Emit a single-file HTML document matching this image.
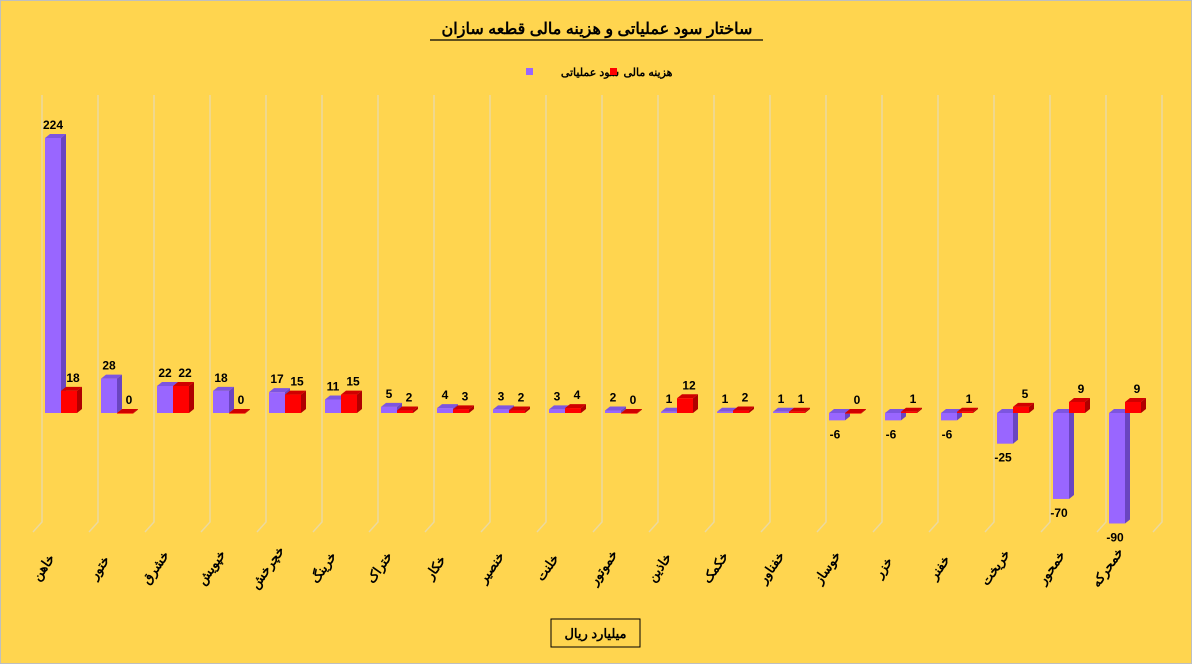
<!DOCTYPE html>
<html><head><meta charset="utf-8"><style>
html,body{margin:0;padding:0;background:#FFD54F;}
svg{display:block;font-family:"Liberation Sans","Noto Sans CJK SC",sans-serif;}
</style></head><body>
<svg id="chart" width="1192" height="664" viewBox="0 0 1192 664">
<rect x="0.5" y="0.5" width="1191" height="663" fill="#FFD54F" stroke="#bfbfbf"/>
<text x="597" y="34" text-anchor="middle" font-size="16" font-weight="bold" direction="rtl">ساختار سود عملیاتی و هزینه مالی قطعه سازان</text>
<line x1="430" y1="40" x2="763" y2="40" stroke="#000" stroke-width="1.3"/>
<g>
<rect x="526" y="68" width="7" height="7" fill="#9966FF"/>
<text x="590" y="76" text-anchor="middle" font-size="11" font-weight="bold" direction="rtl">سود عملیاتی</text>
<rect x="610" y="68" width="7" height="7" fill="#FF0000"/>
<text x="648" y="76" text-anchor="middle" font-size="11" font-weight="bold" direction="rtl">هزینه مالی</text>
</g>
<g id="grid"></g>
<g id="bars"></g>
<g id="labels"></g>
<rect x="551" y="619" width="89" height="28" fill="none" stroke="#000"/>
<text x="595.5" y="638" text-anchor="middle" font-size="13" font-weight="bold" direction="rtl">میلیارد ریال</text>
</svg>
<script>
const categories=["خاهن","ختور","خشرق","خپویش","خچرخش","خرینگ","ختراک","خکار","خنصیر","خلنت","خموتور","خاذین","خکمک","خفناور","خوساز","خزر","خفنر","خریخت","خمحور","خمحرکه"];
const operatingProfit=[224,28,22,18,17,11,5,4,3,3,2,1,1,1,-6,-6,-6,-25,-70,-90];
const financialCost=[18,0,22,0,15,15,2,3,2,4,0,12,2,1,0,1,1,5,9,9];
const NS="http://www.w3.org/2000/svg";
const catW=56, left=42, zeroY=413, scale=275/224;
const xCat=i=>left+i*catW;
const yVal=v=>zeroY-v*scale;
const grid=document.getElementById('grid'),bars=document.getElementById('bars'),labels=document.getElementById('labels');
function mk(tag,attrs,parent){const e=document.createElementNS(NS,tag);for(const k in attrs)e.setAttribute(k,attrs[k]);parent.appendChild(e);return e;}
for(let i=0;i<=categories.length;i++){
  const x=xCat(i);
  const g=mk('polyline',{points:`${x},95 ${x},522 ${x-9},532`,fill:'none',stroke:'#EBD9A0','stroke-width':1.5},grid);
  
  
}
const dx=5,dy=4,bw=16;
function bar(x,v,front,side,top,name){
  const y0=zeroY,y1=yVal(v);
  const yt=Math.min(y0,y1),yb=Math.max(y0,y1),h=Math.max(yb-yt,0.6);
  const g=mk('g',{},bars);
  
  
  mk('polygon',{points:`${x+bw},${yt} ${x+bw+dx},${yt-dy} ${x+bw+dx},${yt+h-dy} ${x+bw},${yt+h}`,fill:side},g);
  mk('polygon',{points:`${x},${yt} ${x+dx},${yt-dy} ${x+bw+dx},${yt-dy} ${x+bw},${yt}`,fill:top},g);
  mk('rect',{x:x,y:yt,width:bw,height:h,fill:front},g);
}
function label(x,y,t,name){
  const e=mk('text',{x:x,y:y,'text-anchor':'middle','font-size':12,'font-weight':'bold'},labels);
  e.textContent=t;
  
  
}
categories.forEach((c,i)=>{
  const x=xCat(i);
  const px=x+3, rx=x+19;
  bar(px,operatingProfit[i],'#9966FF','#6A45C0','#7D55E0','bar-operating-profit-'+i);
  bar(rx,financialCost[i],'#FF0000','#B00000','#D00000','bar-financial-cost-'+i);
  const op=operatingProfit[i];
  if(op>=0) label(px+8,yVal(op)-9,op,'value-operating-profit-'+i);
  else label(px+6,yVal(op)+18,op,'value-operating-profit-'+i);
  const fc=financialCost[i];
  label(rx+12,yVal(fc)-9,fc,'value-financial-cost-'+i);
  const t=mk('text',{x:0,y:0,'text-anchor':'middle','font-size':13,'font-weight':'bold',direction:'rtl',transform:`translate(${x+5},${570}) rotate(-55)`},labels);
  t.textContent=c;
  
  
});
</script>
</body></html>
